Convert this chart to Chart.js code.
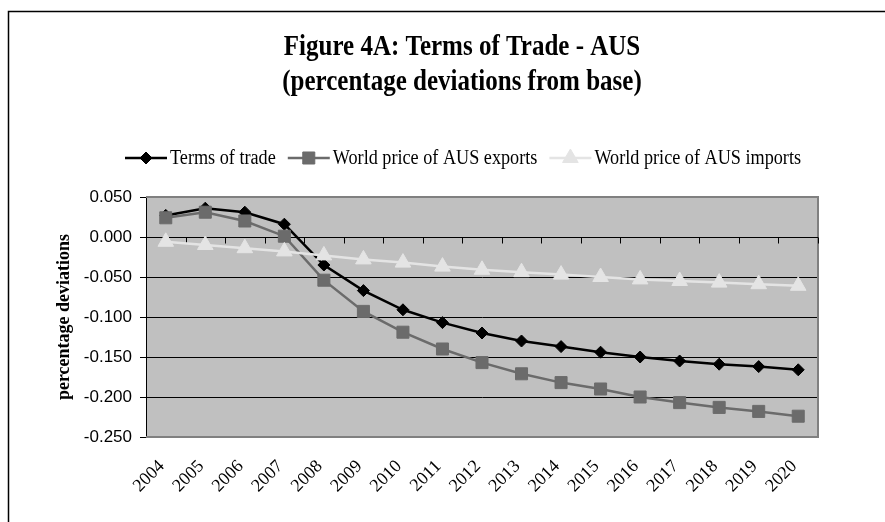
<!DOCTYPE html>
<html>
<head>
<meta charset="utf-8">
<title>Terms of Trade - AUS</title>
<script src="https://cdn.jsdelivr.net/npm/chart.js@4.4.1/dist/chart.umd.min.js"></script>
<style>
  html, body { margin: 0; padding: 0; background: #fff; }
  #wrap { width: 885px; height: 522px; position: relative; }
</style>
</head>
<body>
<div id="wrap"><canvas id="c" width="885" height="522"></canvas></div>
<script>
// Years on the category axis
const years = ['2004', '2005', '2006', '2007', '2008', '2009', '2010', '2011', '2012',
               '2013', '2014', '2015', '2016', '2017', '2018', '2019', '2020'];

// Percentage deviations from base
const termsOfTrade = [0.027, 0.036, 0.031, 0.016, -0.035, -0.067, -0.091, -0.107, -0.120,
                      -0.130, -0.137, -0.144, -0.150, -0.155, -0.159, -0.162, -0.166];
const exportPrices = [0.024, 0.031, 0.020, 0.001, -0.054, -0.093, -0.119, -0.140, -0.157,
                      -0.171, -0.182, -0.190, -0.200, -0.207, -0.213, -0.218, -0.224];
const importPrices = [-0.006, -0.010, -0.014, -0.018, -0.023, -0.028, -0.032, -0.037, -0.041,
                      -0.044, -0.047, -0.050, -0.053, -0.055, -0.057, -0.059, -0.061];

// Value axis range and tick step
const yMin = -0.25;
const yMax = 0.05;
const yStep = 0.05;

// Texts
const titleLines = ['Figure 4A: Terms of Trade - AUS', '(percentage deviations from base)'];
const seriesNames = ['Terms of trade', 'World price of AUS exports', 'World price of AUS imports'];
const yAxisTitle = 'percentage deviations';

const SERIF = '"Liberation Serif", "Times New Roman", serif';
const SANS = '"Liberation Sans", Arial, sans-serif';

const near = (a, b) => Math.abs(a - b) < 1e-9;

// Draws one marker shape for the legend
function drawMarker(ctx, ds, cx, cy) {
  const r = ds.pointRadius;
  ctx.save();
  ctx.fillStyle = ds.pointBackgroundColor;
  ctx.strokeStyle = ds.pointBorderColor;
  ctx.lineWidth = ds.pointBorderWidth;
  ctx.beginPath();
  if (ds.pointStyle === 'rectRot') {
    ctx.moveTo(cx - r, cy); ctx.lineTo(cx, cy - r); ctx.lineTo(cx + r, cy); ctx.lineTo(cx, cy + r);
  } else if (ds.pointStyle === 'rect') {
    const s = r * Math.SQRT1_2;
    ctx.rect(cx - s, cy - s, 2 * s, 2 * s);
  } else {
    const h = r * Math.sqrt(3) / 2;
    ctx.moveTo(cx, cy - r); ctx.lineTo(cx + h, cy + r / 2); ctx.lineTo(cx - h, cy + r / 2);
  }
  ctx.closePath();
  ctx.fill();
  ctx.stroke();
  ctx.restore();
}

// Text drawn slightly taller than wide, like the rest of the figure's lettering
function tallText(ctx, text, x, y, sy) {
  ctx.save();
  ctx.translate(x, y);
  ctx.scale(1, sy);
  ctx.fillText(text, 0, 0);
  ctx.restore();
}

const chartFrame = {
  id: 'chartFrame',
  beforeDraw(chart) {
    const { ctx, chartArea: a } = chart;
    ctx.save();
    ctx.fillStyle = '#ffffff';
    ctx.fillRect(0, 0, chart.width, chart.height);
    // outer frame (left and top edges are inside the canvas)
    ctx.strokeStyle = '#000';
    ctx.lineWidth = 1.5;
    ctx.beginPath();
    ctx.moveTo(8.5, chart.height + 5);
    ctx.lineTo(8.5, 11.5);
    ctx.lineTo(chart.width + 5, 11.5);
    ctx.stroke();
    // plot area fill
    ctx.fillStyle = '#c0c0c0';
    ctx.fillRect(a.left, a.top, a.right - a.left, a.bottom - a.top);
    ctx.restore();
  },
  beforeDatasetsDraw(chart) {
    const { ctx, chartArea: a, scales: { x, y } } = chart;
    ctx.save();
    // plot border
    ctx.strokeStyle = '#808080';
    ctx.lineWidth = 2;
    ctx.beginPath();
    ctx.moveTo(a.left, a.top);
    ctx.lineTo(a.right, a.top);
    ctx.lineTo(a.right, a.bottom);
    ctx.lineTo(a.left, a.bottom);
    ctx.stroke();
    // category axis crossing at zero, with tick marks between categories
    const y0 = Math.round(y.getPixelForValue(0)) + 0.5;
    ctx.strokeStyle = '#000';
    ctx.lineWidth = 1;
    ctx.beginPath();
    ctx.moveTo(a.left, y0);
    ctx.lineTo(a.right, y0);
    for (let i = 0; i <= years.length; i++) {
      const px = Math.round(x.getPixelForValue(i - 0.5)) + 0.5;
      ctx.moveTo(px, y0);
      ctx.lineTo(px, y0 + 6);
    }
    ctx.stroke();
    ctx.restore();
  },
  afterDraw(chart) {
    const { ctx } = chart;
    ctx.save();
    // title
    ctx.fillStyle = '#000';
    ctx.textAlign = 'center';
    ctx.textBaseline = 'alphabetic';
    ctx.font = 'bold 25px ' + SERIF;
    tallText(ctx, titleLines[0], 462, 55, 1.15);
    tallText(ctx, titleLines[1], 462, 90, 1.15);

    // legend: line with marker, then series name
    ctx.font = '18.2px ' + SERIF;
    ctx.textAlign = 'left';
    ctx.textBaseline = 'alphabetic';
    const ly = 158;
    let lx = 125;
    chart.data.datasets.forEach((ds) => {
      ctx.strokeStyle = ds.borderColor;
      ctx.lineWidth = ds.borderWidth;
      ctx.beginPath();
      ctx.moveTo(lx, ly);
      ctx.lineTo(lx + 42, ly);
      ctx.stroke();
      drawMarker(ctx, ds, lx + 21, ly);
      ctx.fillStyle = '#000';
      tallText(ctx, ds.label, lx + 45, ly + 6, 1.1);
      lx += 45 + ctx.measureText(ds.label).width + 12;
    });
    ctx.restore();
  }
};

new Chart(document.getElementById('c'), {
  type: 'line',
  data: {
    labels: years,
    datasets: [
      {
        label: seriesNames[0],
        data: termsOfTrade,
        borderColor: '#000000',
        borderWidth: 2.5,
        pointStyle: 'rectRot',
        pointRadius: 6,
        pointBackgroundColor: '#000000',
        pointBorderColor: '#000000',
        pointBorderWidth: 1,
        tension: 0,
        order: 3
      },
      {
        label: seriesNames[1],
        data: exportPrices,
        borderColor: '#6b6b6b',
        borderWidth: 2.5,
        pointStyle: 'rect',
        pointRadius: 8.5,
        pointBackgroundColor: '#6b6b6b',
        pointBorderColor: '#6b6b6b',
        pointBorderWidth: 1,
        tension: 0,
        order: 2
      },
      {
        label: seriesNames[2],
        data: importPrices,
        borderColor: '#e4e4e4',
        borderWidth: 2.5,
        pointStyle: 'triangle',
        pointRadius: 9,
        pointBackgroundColor: '#e4e4e4',
        pointBorderColor: '#e4e4e4',
        pointBorderWidth: 1,
        tension: 0,
        order: 1
      }
    ]
  },
  options: {
    responsive: false,
    animation: false,
    events: [],
    layout: { padding: { top: 197, right: 67, bottom: 0, left: 0 } },
    plugins: {
      legend: { display: false },
      title: { display: false },
      tooltip: { enabled: false }
    },
    scales: {
      x: {
        type: 'category',
        offset: true,
        grid: { display: false, drawTicks: false },
        border: { display: false },
        ticks: {
          autoSkip: false,
          minRotation: 45,
          maxRotation: 45,
          padding: 19,
          labelOffset: -4,
          color: '#000',
          font: { family: SERIF, size: 18 }
        },
        afterFit(scale) { scale.height = 85; }
      },
      y: {
        type: 'linear',
        min: yMin,
        max: yMax,
        ticks: {
          stepSize: yStep,
          padding: 8,
          color: '#000',
          font: { family: SANS, size: 17 },
          callback: (v) => (near(v, 0) ? 0 : v).toFixed(3)
        },
        grid: {
          color: (c) => (c.tick && (near(c.tick.value, yMax) || near(c.tick.value, yMin))) ? 'rgba(0,0,0,0)' : '#000',
          tickColor: '#000',
          tickLength: 6,
          lineWidth: 1
        },
        border: { display: true, color: '#000', width: 1 },
        title: {
          display: true,
          text: yAxisTitle,
          color: '#000',
          font: { family: SERIF, size: 18, weight: 'bold' },
          padding: { top: 54, bottom: 0 }
        },
        afterFit(scale) { scale.width = 146; }
      }
    }
  },
  plugins: [chartFrame]
});
</script>
</body>
</html>
